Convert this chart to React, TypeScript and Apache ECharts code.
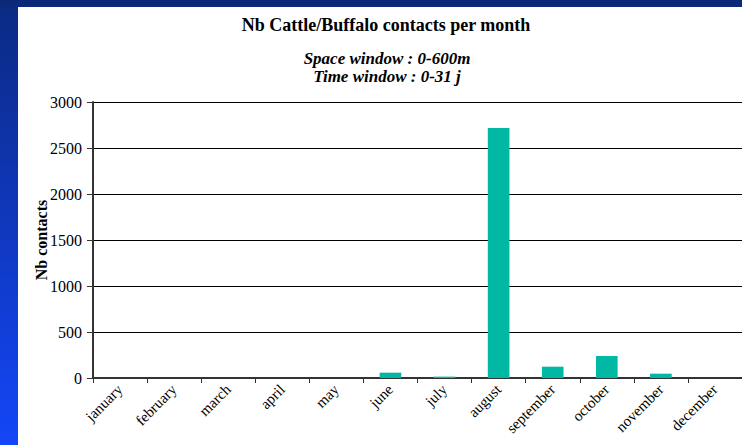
import React, { useEffect, useRef } from "react";
import * as echarts from "echarts";

const months = ["january", "february", "march", "april", "may", "june", "july", "august", "september", "october", "november", "december"];
const contacts = [0, 0, 0, 0, 0, 58, 15, 2717, 123, 239, 47, 0];
const yTicks = [0, 500, 1000, 1500, 2000, 2500, 3000];

const titleText = "Nb Cattle/Buffalo contacts per month";
const subtitleLines = ["Space window : 0-600m", "Time window : 0-31 j"];
const yName = "Nb contacts";

export default function App() {
  const ref = useRef<HTMLDivElement>(null);
  useEffect(() => {
    if (!ref.current) return;
    const chart = echarts.init(ref.current, null, { renderer: "svg" });
    const serif = "Liberation Serif";
    const subStyle = { fontFamily: serif, fontSize: 17, fontWeight: "bold", fontStyle: "italic", color: "#000" };
    chart.setOption({
      animation: false,
      backgroundColor: "#ffffff",
      textStyle: { fontFamily: serif },
      graphic: [
        {
          type: "rect",
          shape: { x: 0, y: 0, width: 18, height: 445 },
          style: {
            fill: new echarts.graphic.LinearGradient(0, 0, 0, 1, [
              { offset: 0, color: "#0b2a82" },
              { offset: 1, color: "#1446f8" },
            ]),
          },
          silent: true,
        },
        {
          type: "rect",
          shape: { x: 0, y: 0, width: 742, height: 7 },
          style: { fill: "#0c2878" },
          silent: true,
        },
        {
          type: "text",
          x: 41,
          y: 240,
          rotation: Math.PI / 2,
          style: {
            text: yName,
            fontFamily: serif,
            fontSize: 16,
            fontWeight: "bold",
            fill: "#000",
            align: "center",
            verticalAlign: "middle",
          },
          silent: true,
        },
      ],
      title: [
        {
          text: titleText,
          left: 381,
          textAlign: "center",
          top: 11,
          textStyle: { fontFamily: serif, fontSize: 18, fontWeight: "bold", color: "#000" },
        },
        {
          text: subtitleLines[0],
          left: 382,
          textAlign: "center",
          top: 45,
          textStyle: subStyle,
        },
        {
          text: subtitleLines[1],
          left: 382,
          textAlign: "center",
          top: 63,
          textStyle: subStyle,
        },
      ],
      grid: { left: 93, top: 102, right: -1, bottom: 67, containLabel: false },
      xAxis: {
        type: "category",
        data: months,
        boundaryGap: true,
        axisLine: { show: true, lineStyle: { color: "#333", width: 2 } },
        axisTick: { show: true, length: 5, alignWithLabel: false, lineStyle: { color: "#333", width: 1 } },
        axisLabel: {
          rotate: 45,
          interval: 0,
          margin: 9,
          fontFamily: serif,
          fontSize: 15,
          color: "#000",
        },
      },
      yAxis: {
        type: "value",
        min: 0,
        max: 3000,
        interval: 500,
        axisLine: { show: true, lineStyle: { color: "#333", width: 2 } },
        axisTick: { show: true, length: 6, inside: false, lineStyle: { color: "#333", width: 1 } },
        axisLabel: {
          margin: 11,
          fontFamily: serif,
          fontSize: 16,
          color: "#000",
          formatter: (v: number) => (yTicks.includes(v) ? String(v) : ""),
        },
        splitLine: { show: true, lineStyle: { color: "#000", width: 1 } },
      },
      series: [
        {
          type: "bar",
          data: contacts,
          barWidth: "40%",
          itemStyle: { color: "#00b8a4" },
        },
      ],
    });
    return () => chart.dispose();
  }, []);
  return (
    <div
      ref={ref}
      style={{ position: "fixed", left: 0, top: 0, width: 742, height: 445 }}
    />
  );
}
